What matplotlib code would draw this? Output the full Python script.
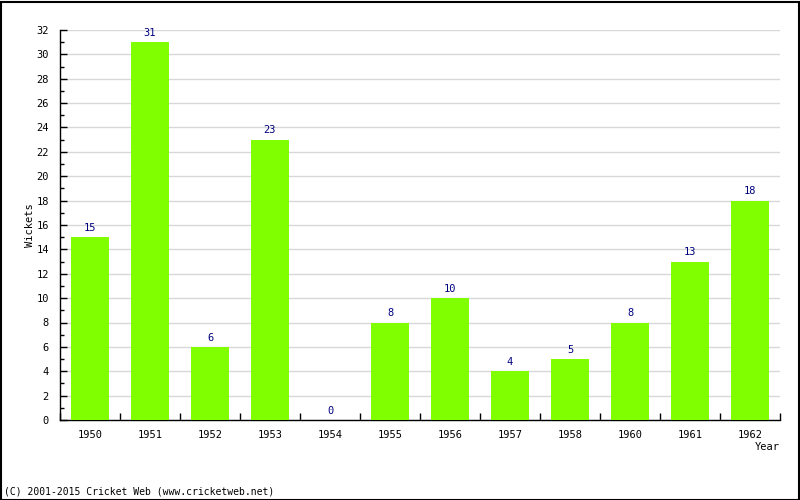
import matplotlib
matplotlib.use("Agg")
import matplotlib.pyplot as plt
from matplotlib.ticker import MultipleLocator, FixedLocator
import numpy as np

years = ["1950", "1951", "1952", "1953", "1954", "1955", "1956", "1957", "1958", "1960", "1961", "1962"]
wickets = [15, 31, 6, 23, 0, 8, 10, 4, 5, 8, 13, 18]

plt.rcParams['font.family'] = ['DejaVu Sans Mono']
FS = 7

fig = plt.figure(figsize=(8, 5), dpi=100)
ax = fig.add_axes([60/800, 80/500, 720/800, 390/500])

x = np.arange(len(years))
ax.bar(x, wickets, width=0.62, color="#80ff00", zorder=3)
for xi, v in zip(x, wickets):
    ax.text(xi, v + 0.35, str(v), ha="center", va="bottom", color="#000080", fontsize=FS + 0.5, zorder=4)

ax.set_xlim(-0.5, len(years) - 0.5)
ax.set_ylim(0, 32)
ax.yaxis.set_major_locator(MultipleLocator(2))
ax.yaxis.set_minor_locator(MultipleLocator(1))
ax.grid(axis="y", which="major", color="#d8d8d8", linewidth=1, zorder=0)

ax.set_xticks(x)
ax.set_xticklabels(years)
ax.xaxis.set_minor_locator(FixedLocator(np.arange(-0.5, len(years), 1.0)))
ax.tick_params(axis="x", which="major", length=0, pad=7, labelsize=FS + 0.5)
ax.tick_params(axis="x", which="minor", direction="in", length=5, width=1)
ax.tick_params(axis="y", which="major", direction="in", length=5, width=1, pad=8, labelsize=FS + 0.5)
ax.tick_params(axis="y", which="minor", direction="in", length=3, width=1)

for s in ["top", "right"]:
    ax.spines[s].set_visible(False)
for s in ["left", "bottom"]:
    ax.spines[s].set_linewidth(1)
    ax.spines[s].set_color("black")

fig.text(30/800, 1 - 225/500, "Wickets", rotation=90, ha="center", va="center", fontsize=FS + 0.5)
fig.text(780/800, 1 - 447/500, "Year", ha="right", va="center", fontsize=FS + 0.5)
fig.text(4/800, 1 - 492/500, "(C) 2001-2015 Cricket Web (www.cricketweb.net)", ha="left", va="center", fontsize=FS)

border = plt.Rectangle((0.5/800, 0.5/500), 1 - 2/800, 1 - 2/500, transform=fig.transFigure,
                       fill=False, edgecolor="black", linewidth=1.5)
fig.patches.append(border)

fig.savefig("out.png", dpi=100)
